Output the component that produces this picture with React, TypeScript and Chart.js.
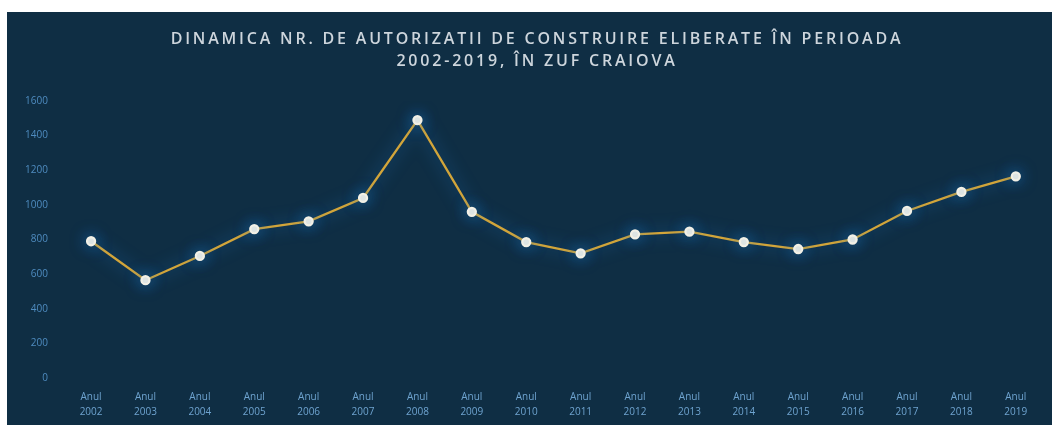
import { useEffect, useRef } from 'react';
import { Chart, registerables } from 'chart.js';

Chart.register(...registerables);

const labelPrefix = 'Anul';
const years = ['2002', '2003', '2004', '2005', '2006', '2007', '2008', '2009', '2010', '2011', '2012', '2013', '2014', '2015', '2016', '2017', '2018', '2019'];
const permits = [790, 565, 705, 860, 905, 1040, 1490, 960, 785, 720, 830, 845, 785, 745, 800, 965, 1075, 1165];
const yMin = 0;
const yMax = 1600;
const yStep = 200;
const titleLines = [
  'DINAMICA NR. DE AUTORIZATII DE CONSTRUIRE ELIBERATE ÎN PERIOADA',
  '2002-2019, ÎN ZUF CRAIOVA',
];

const BG = '#0f2e44';

const titlePlugin = {
  id: 'spacedTitle',
  afterDraw(chart: any) {
    const ctx = chart.ctx;
    ctx.save();
    ctx.font = '600 16px "Open Sans"';
    ctx.fillStyle = '#cdd5dc';
    ctx.textAlign = 'center';
    ctx.textBaseline = 'middle';
    try { (ctx as any).letterSpacing = '2.8px'; } catch (e) {}
    const cx = 530;
    titleLines.forEach((t, i) => ctx.fillText(t, cx, 27 + i * 22));
    ctx.restore();
  },
};

const glowPlugin = {
  id: 'lineGlow',
  beforeDatasetDraw(chart: any) {
    const ctx = chart.ctx;
    ctx.save();
    ctx.shadowColor = 'rgba(35,120,200,0.8)';
    ctx.shadowBlur = 16;
  },
  afterDatasetDraw(chart: any) {
    chart.ctx.restore();
  },
};

export default function App() {
  const ref = useRef<HTMLCanvasElement | null>(null);

  useEffect(() => {
    if (!ref.current) return;
    const chart = new Chart(ref.current, {
      type: 'line',
      data: {
        labels: years.map((y) => [labelPrefix, y]),
        datasets: [
          {
            label: 'Autorizatii',
            data: permits,
            borderColor: '#d2a53a',
            borderWidth: 2.3,
            pointBackgroundColor: '#f2f0e6',
            pointBorderColor: '#f2f0e6',
            pointRadius: 4,
            tension: 0,
          },
        ],
      },
      options: {
        responsive: false,
        animation: false,
        layout: { padding: { top: 89, right: 9, left: 2, bottom: 0 } },
        plugins: {
          legend: { display: false },
          title: { display: false },
          tooltip: { enabled: false },
        },
        scales: {
          x: {
            offset: true,
            grid: { display: false, drawTicks: false },
            border: { display: false },
            ticks: {
              color: '#6ea3cf',
              font: { family: '"Open Sans"', size: 10, lineHeight: 1.5 },
              padding: 12,
              maxRotation: 0,
              autoSkip: false,
            },
          },
          y: {
            min: yMin,
            max: yMax,
            grid: { display: false, drawTicks: false },
            border: { display: false },
            ticks: {
              stepSize: yStep,
              color: '#4f8cc0',
              font: { family: '"Open Sans"', size: 10 },
              padding: 16,
              callback: (v: any) => String(v),
            },
          },
        },
      },
      plugins: [titlePlugin, glowPlugin],
    });
    return () => chart.destroy();
  }, []);

  return (
    <div style={{ position: 'absolute', left: 0, top: 0, width: 1052, height: 425, background: '#ffffff', overflow: 'hidden' }}>
      <div style={{ position: 'absolute', left: 7, top: 12, width: 1045, height: 413, background: BG, overflow: 'hidden' }}>
        <canvas ref={ref} width={1045} height={420} style={{ display: 'block' }} />
      </div>
    </div>
  );
}
